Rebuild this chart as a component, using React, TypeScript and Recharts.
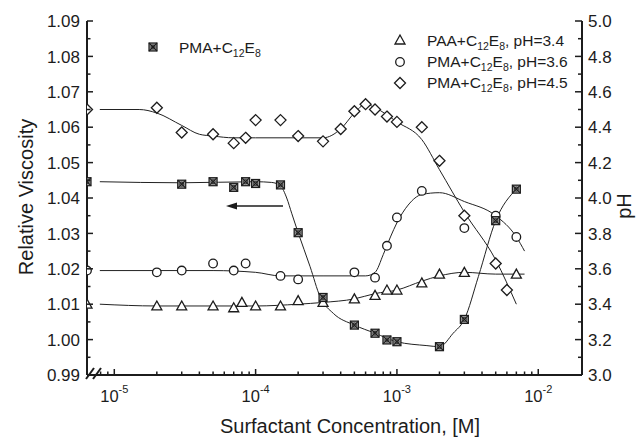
import React from 'react';
import { LineChart, Line, XAxis, YAxis } from 'recharts';

// zero-surfactant points are drawn on the left axis (axis is broken there)
const X0 = 6.41e-6;
const XMAX = 2.04e-2;

// pH series (right axis)
// PAA+C12E8, pH=3.4 (triangles)
const triConc = [X0, 2e-5, 3e-5, 5e-5, 7e-5, 8e-5, 1e-4, 1.5e-4, 2e-4, 3e-4, 5e-4, 7e-4, 8.5e-4, 1e-3, 1.5e-3, 2e-3, 3e-3, 7e-3];
const triPH = [3.40, 3.39, 3.39, 3.39, 3.38, 3.41, 3.39, 3.39, 3.42, 3.41, 3.43, 3.45, 3.48, 3.48, 3.52, 3.57, 3.58, 3.57];

// PMA+C12E8, pH=3.6 (circles)
const cirConc = [X0, 2e-5, 3e-5, 5e-5, 7e-5, 8.5e-5, 1.5e-4, 2e-4, 5e-4, 7e-4, 8.5e-4, 1e-3, 1.5e-3, 3e-3, 5e-3, 7e-3];
const cirPH = [3.59, 3.58, 3.59, 3.63, 3.59, 3.63, 3.56, 3.54, 3.58, 3.55, 3.73, 3.89, 4.04, 3.83, 3.90, 3.78];

// PMA+C12E8, pH=4.5 (diamonds)
const diaConc = [X0, 2e-5, 3e-5, 5e-5, 7e-5, 8.5e-5, 1e-4, 1.5e-4, 2e-4, 3e-4, 4e-4, 5e-4, 6e-4, 7e-4, 8.5e-4, 1e-3, 1.5e-3, 2e-3, 3e-3, 5e-3, 6e-3];
const diaPH = [4.50, 4.51, 4.37, 4.36, 4.31, 4.34, 4.44, 4.44, 4.35, 4.32, 4.39, 4.49, 4.53, 4.50, 4.46, 4.43, 4.40, 4.21, 3.90, 3.63, 3.48];

// relative viscosity (left axis), PMA+C12E8 (crossed squares)
const sqConc = [X0, 3e-5, 5e-5, 7e-5, 8.5e-5, 1e-4, 1.5e-4, 2e-4, 3e-4, 5e-4, 7e-4, 8.5e-4, 1e-3, 2e-3, 3e-3, 5e-3, 7e-3];
const sqVisc = [1.0446, 1.0439, 1.0446, 1.0430, 1.0446, 1.0441, 1.0437, 1.0302, 1.0119, 1.0041, 1.0018, 0.9999, 0.9994, 0.9980, 1.0057, 1.0336, 1.0425];

// guide curves
const triFitConc = [7.9e-6, 2e-5, 1e-4, 2e-4, 3e-4, 5e-4, 7e-4, 1e-3, 1.5e-3, 2e-3, 3e-3, 5e-3, 8e-3];
const triFitPH = [3.40, 3.39, 3.39, 3.40, 3.41, 3.43, 3.46, 3.48, 3.53, 3.56, 3.58, 3.57, 3.57];

const cirFitConc = [7.9e-6, 2e-5, 5e-5, 1e-4, 1.5e-4, 3e-4, 6e-4, 7e-4, 8e-4, 9e-4, 1e-3, 1.2e-3, 1.5e-3, 2e-3, 3e-3, 5e-3, 7e-3, 8e-3];
const cirFitPH = [3.59, 3.59, 3.59, 3.58, 3.56, 3.56, 3.56, 3.58, 3.68, 3.78, 3.86, 3.96, 4.02, 4.03, 3.98, 3.90, 3.78, 3.70];

const diaFitConc = [7.9e-6, 1.5e-5, 2e-5, 3e-5, 4e-5, 5e-5, 7e-5, 1e-4, 2e-4, 3e-4, 4e-4, 5e-4, 6e-4, 7e-4, 1e-3, 1.5e-3, 2e-3, 3e-3, 5e-3, 7e-3];
const diaFitPH = [4.50, 4.50, 4.48, 4.41, 4.36, 4.35, 4.34, 4.34, 4.34, 4.34, 4.39, 4.48, 4.53, 4.51, 4.43, 4.33, 4.16, 3.92, 3.65, 3.40];

const sqFitConc = [7.9e-6, 3e-5, 1e-4, 1.3e-4, 1.5e-4, 1.66e-4, 1.8e-4, 2e-4, 2.43e-4, 2.86e-4, 3.55e-4, 5e-4, 7e-4, 1e-3, 1.63e-3, 2e-3, 2.5e-3, 3e-3, 3.77e-3, 5e-3, 7e-3];
const sqFitVisc = [1.0446, 1.0443, 1.0446, 1.0444, 1.0434, 1.0400, 1.0357, 1.0302, 1.0206, 1.0121, 1.0074, 1.0041, 1.0018, 0.9994, 0.9983, 0.9980, 1.0018, 1.0057, 1.0178, 1.0336, 1.0425];

const xMajor = [1e-5, 1e-4, 1e-3, 1e-2];
const yLeftMajor = [0.99, 1.0, 1.01, 1.02, 1.03, 1.04, 1.05, 1.06, 1.07, 1.08, 1.09];
const yRightMajor = [3.0, 3.2, 3.4, 3.6, 3.8, 4.0, 4.2, 4.4, 4.6, 4.8, 5.0];

const zip = (xs: number[], ys: number[]) => xs.map((x, i) => ({ x, y: ys[i] }));

// minor ticks between the majors
const xTicks: number[] = [8e-6, 9e-6];
xMajor.forEach((d) => {
  for (let k = 1; k <= 9; k++) {
    if (d === 1e-2 && k > 1) break;
    xTicks.push(d * k);
  }
});
const yLeftTicks: number[] = [];
yLeftMajor.forEach((v, i) => {
  yLeftTicks.push(v);
  if (i < yLeftMajor.length - 1) yLeftTicks.push(v + 0.005);
});
const yRightTicks: number[] = [];
yRightMajor.forEach((v, i) => {
  yRightTicks.push(v);
  if (i < yRightMajor.length - 1) yRightTicks.push(v + 0.1);
});

const W = 644;
const H = 438;
const PL = 87;
const PR = 582;
const PT = 21;
const PB = 375;
const INK = '#1c1c1c';
const FONT = '"Liberation Sans", Arial, Helvetica, sans-serif';

const isMajor = (v: number, list: number[]) => list.some((m) => Math.abs(m - v) < Math.abs(m) * 1e-6 + 1e-9);

const LeftTick = (props: any) => {
  const { y, payload } = props;
  const v = payload.value as number;
  const major = isMajor(v, yLeftMajor);
  return (
    <g>
      <line x1={PL} x2={PL + (major ? 6 : 3.5)} y1={y} y2={y} stroke={INK} strokeWidth={1.5} />
      {major && (
        <text x={PL - 7} y={y} dy="0.36em" textAnchor="end" fontSize={17} fill={INK} fontFamily={FONT}>
          {v.toFixed(2)}
        </text>
      )}
    </g>
  );
};

const RightTick = (props: any) => {
  const { y, payload } = props;
  const v = payload.value as number;
  const major = isMajor(v, yRightMajor);
  return (
    <g>
      <line x1={PR} x2={PR - (major ? 7 : 4)} y1={y} y2={y} stroke={INK} strokeWidth={1.5} />
      {major && (
        <text x={PR + 6} y={y} dy="0.36em" textAnchor="start" fontSize={17} fill={INK} fontFamily={FONT}>
          {v.toFixed(1)}
        </text>
      )}
    </g>
  );
};

const BottomTick = (props: any) => {
  const { x, payload } = props;
  const v = payload.value as number;
  const major = isMajor(v, xMajor);
  const exp = Math.round(Math.log10(v));
  return (
    <g>
      <line x1={x} x2={x} y1={PB} y2={PB - (major ? 6 : 3.5)} stroke={INK} strokeWidth={1.5} />
      {major && (
        <text x={x} y={402} textAnchor="middle" fontSize={16.5} fill={INK} fontFamily={FONT}>
          10
          <tspan fontSize={11} dy={-9}>{exp}</tspan>
        </text>
      )}
    </g>
  );
};

const Marker = ({ kind, cx, cy }: { kind: string; cx: number; cy: number }) => {
  const sw = 1.3;
  if (kind === 'tri') {
    return <polygon points={`${cx},${cy - 5} ${cx - 5},${cy + 4} ${cx + 5},${cy + 4}`} fill="#fff" stroke={INK} strokeWidth={sw} />;
  }
  if (kind === 'cir') {
    return <circle cx={cx} cy={cy} r={4.3} fill="#fff" stroke={INK} strokeWidth={sw} />;
  }
  if (kind === 'dia') {
    return <polygon points={`${cx},${cy - 5.5} ${cx + 5.5},${cy} ${cx},${cy + 5.5} ${cx - 5.5},${cy}`} fill="#fff" stroke={INK} strokeWidth={sw} />;
  }
  return (
    <g>
      <rect x={cx - 4} y={cy - 4} width={8} height={8} fill="#999" stroke={INK} strokeWidth={1.2} />
      <line x1={cx - 4} y1={cy - 4} x2={cx + 4} y2={cy + 4} stroke={INK} strokeWidth={1.1} />
      <line x1={cx + 4} y1={cy - 4} x2={cx - 4} y2={cy + 4} stroke={INK} strokeWidth={1.1} />
      <circle cx={cx} cy={cy} r={2} fill="none" stroke={INK} strokeWidth={0.8} />
    </g>
  );
};

const dotFor = (kind: string) => (p: any) => <Marker key={`${kind}-${p.index}`} kind={kind} cx={p.cx} cy={p.cy} />;

const Sub = ({ t }: { t: string }) => (
  <tspan fontSize={10.5} dy={4}>
    {t}
  </tspan>
);

const LegendText = ({ x, y, head, suffix }: { x: number; y: number; head: string; suffix: string }) => (
  <text x={x} y={y} fontSize={15.5} fill={INK} fontFamily={FONT}>
    {head}
    <Sub t="12" />
    <tspan dy={-4}>E</tspan>
    <Sub t="8" />
    <tspan dy={-4}>{suffix}</tspan>
  </text>
);

export default function App() {
  const series = [
    { kind: 'tri', axis: 'right', pts: zip(triConc, triPH), fit: zip(triFitConc, triFitPH) },
    { kind: 'cir', axis: 'right', pts: zip(cirConc, cirPH), fit: zip(cirFitConc, cirFitPH) },
    { kind: 'dia', axis: 'right', pts: zip(diaConc, diaPH), fit: zip(diaFitConc, diaFitPH) },
    { kind: 'sq', axis: 'left', pts: zip(sqConc, sqVisc), fit: zip(sqFitConc, sqFitVisc) },
  ];

  return (
    <div style={{ position: 'absolute', left: 0, top: 0, width: W, height: H, background: '#fff' }}>
      <LineChart width={W} height={H} margin={{ top: PT, right: W - PR - 40, bottom: H - PB - 30, left: PL - 60 }}>
        <XAxis
          dataKey="x"
          type="number"
          scale="log"
          domain={[X0, XMAX]}
          allowDataOverflow
          ticks={xTicks}
          interval={0}
          tick={<BottomTick />}
          tickLine={false}
          axisLine={{ stroke: INK, strokeWidth: 2 }}
          height={30}
        />
        <XAxis xAxisId="top" orientation="top" type="number" domain={[0, 1]} tick={false} tickLine={false} height={0} axisLine={{ stroke: INK, strokeWidth: 2 }} />
        <YAxis
          yAxisId="left"
          type="number"
          domain={[0.99, 1.09]}
          allowDataOverflow
          ticks={yLeftTicks}
          interval={0}
          tick={<LeftTick />}
          tickLine={false}
          axisLine={{ stroke: INK, strokeWidth: 2 }}
          width={60}
        />
        <YAxis
          yAxisId="right"
          orientation="right"
          type="number"
          domain={[3, 5]}
          allowDataOverflow
          ticks={yRightTicks}
          interval={0}
          tick={<RightTick />}
          tickLine={false}
          axisLine={{ stroke: INK, strokeWidth: 2 }}
          width={40}
        />
        {series.map((s) => (
          <Line
            key={`fit-${s.kind}`}
            yAxisId={s.axis}
            data={s.fit}
            dataKey="y"
            type="monotone"
            stroke="#222"
            strokeWidth={1}
            dot={false}
            activeDot={false}
            isAnimationActive={false}
          />
        ))}
        {series.map((s) => (
          <Line
            key={`pts-${s.kind}`}
            yAxisId={s.axis}
            data={s.pts}
            dataKey="y"
            stroke="none"
            strokeWidth={0}
            dot={dotFor(s.kind)}
            activeDot={false}
            isAnimationActive={false}
          />
        ))}
      </LineChart>
      <svg width={W} height={H} style={{ position: 'absolute', left: 0, top: 0, pointerEvents: 'none' }}>
        {/* axis break */}
        <line x1={86} y1={379} x2={94} y2={368} stroke={INK} strokeWidth={2} />
        <line x1={93} y1={379} x2={101} y2={368} stroke={INK} strokeWidth={2} />
        {/* arrow: squares belong to the left axis */}
        <line x1={283} y1={206} x2={233} y2={206} stroke={INK} strokeWidth={1.5} />
        <polygon points="226,206 237,202.5 237,209.5" fill={INK} />
        {/* legends */}
        <Marker kind="sq" cx={153} cy={47} />
        <LegendText x={179} y={53} head="PMA+C" suffix="" />
        <Marker kind="tri" cx={400} cy={40} />
        <LegendText x={427} y={46} head="PAA+C" suffix=", pH=3.4" />
        <Marker kind="cir" cx={400} cy={62} />
        <LegendText x={427} y={67} head="PMA+C" suffix=", pH=3.6" />
        <Marker kind="dia" cx={400} cy={83} />
        <LegendText x={427} y={88} head="PMA+C" suffix=", pH=4.5" />
        {/* axis titles */}
        <text transform="translate(33,197) rotate(-90)" textAnchor="middle" fontSize={20} fill={INK} fontFamily={FONT}>
          Relative Viscosity
        </text>
        <text transform="translate(631,206) rotate(-90)" textAnchor="middle" fontSize={20} fill={INK} fontFamily={FONT}>
          pH
        </text>
        <text x={350} y={433} textAnchor="middle" fontSize={20} fill={INK} fontFamily={FONT}>
          Surfactant Concentration, [M]
        </text>
      </svg>
    </div>
  );
}
